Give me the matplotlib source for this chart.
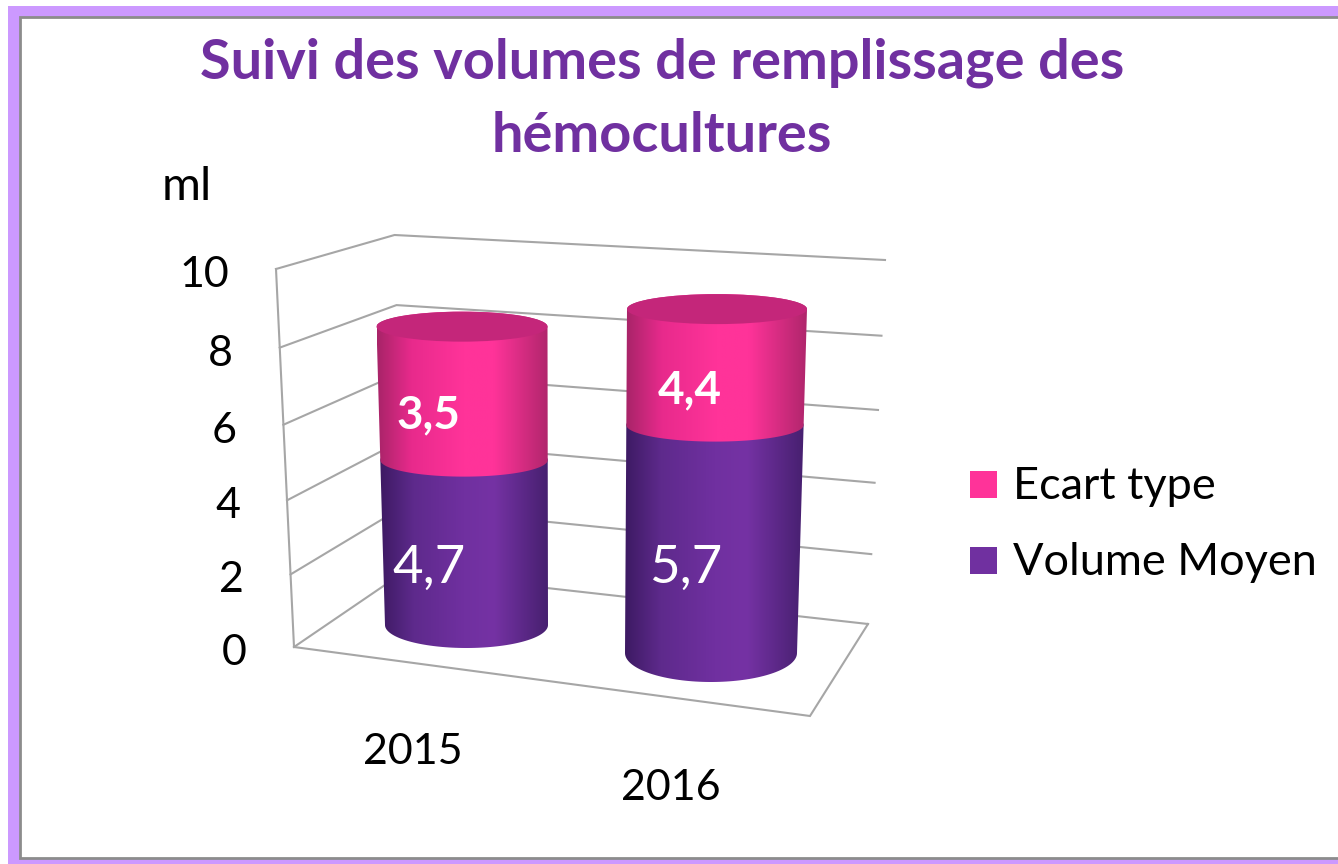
import numpy as np
import matplotlib
matplotlib.use("Agg")
import matplotlib.pyplot as plt
from matplotlib.patches import Polygon, Rectangle, Ellipse

plt.rcParams['font.family'] = ['Lato', 'DejaVu Sans']

# ---- data ----
years = ['2015', '2016']
series_names = ['Ecart type', 'Volume Moyen']
volume_labels = ['4,7', '5,7']
ecart_labels = ['3,5', '4,4']
# Heights as drawn in the picture, in axis units read against the gridlines
# (the printed labels above do not quite agree with the drawn 2016 heights).
volume_drawn = [4.7, 6.0]
ecart_drawn = [3.8, 3.05]
y_ticks = [0, 2, 4, 6, 8, 10]
title_lines = ['Suivi des volumes de remplissage des', 'hémocultures']
y_unit = 'ml'

# ---- style ----
PURPLE = '#7030A0'
PINK = '#FF3399'
LILAC = '#CC99FF'
GRID = '#A6A6A6'
FONT_TICK = 31

fig = plt.figure(figsize=(13.38, 8.64), dpi=100, facecolor='white')
ax = fig.add_axes([0, 0, 1, 1])
ax.axis('off')

# Frame
ax.add_patch(Rectangle((8, 6), 1330, 858, fc=LILAC, ec='none', zorder=0))
ax.add_patch(Rectangle((20, 17), 1320, 841, fc='white', ec='#8C8C8C', lw=2, zorder=0.1))

# 3-D box: corners at value 0 and value 10
front_left = ((294, 647), (276, 269))
back_left = ((404, 572), (394.5, 235))
back_right = ((868, 624), (885, 260))
front_right_floor = (810, 716)


def at(corner, v):
    (x0, y0), (x1, y1) = corner
    t = v / 10.0
    t = t - 0.05 * t * (1 - t)      # slight perspective foreshortening of the box
    return x0 + (x1 - x0) * t, y0 + (y1 - y0) * t


for v in y_ticks:
    pts = [at(front_left, v), at(back_left, v), at(back_right, v)]
    ax.plot(*zip(*pts), color=GRID, lw=1.5, zorder=1, solid_joinstyle='miter')
    fx, fy = pts[0]
    ax.text(fx - 47, fy + 6, str(v), ha='right', va='center', fontsize=FONT_TICK, color='black')
ax.plot(*zip(at(front_left, 0), at(front_left, 10)), color=GRID, lw=1.5, zorder=1)
ax.plot(*zip(at(front_left, 0), front_right_floor, at(back_right, 0)),
        color=GRID, lw=1.5, zorder=1, solid_joinstyle='miter')

# Cylinder geometry: base y, pixels per unit, (cx, half width, ry) at base and top
bars = [
    dict(base=625, scale=35.1, bottom=(466.5, 81.5, 23), top=(462, 85.5, 15)),
    dict(base=653, scale=38.0, bottom=(711, 86, 29), top=(717, 90, 15)),
]

purple_stops = ['#3D1A63', '#5E2A8C', '#7030A0', '#7532A4', '#472070']
pink_stops = ['#A82468', '#E82A8C', '#FF3399', '#FF3399', '#B0266C']
stop_pos = [0.0, 0.2, 0.5, 0.68, 1.0]


def hex_rgb(h):
    return [int(h[i:i + 2], 16) / 255 for i in (1, 3, 5)]


def gradient(stops, n=256):
    xs = np.linspace(0, 1, n)
    arr = np.array([hex_rgb(s) for s in stops])
    return np.stack([np.interp(xs, stop_pos, arr[:, c]) for c in range(3)], axis=1)[None, :, :]


def segment(bar, v0, v1, stops, z):
    y_base = bar['base']
    total = bar['total']

    def shape(v):
        f = v / total
        b, t = bar['bottom'], bar['top']
        cx = b[0] + (t[0] - b[0]) * f
        hw = b[1] + (t[1] - b[1]) * f
        ry = t[2] + (b[2] - t[2]) * (1 - f) ** 2
        return cx, hw, ry, y_base - v * bar['scale']

    cx0, hw0, ry0, y0 = shape(v0)
    cx1, hw1, ry1, y1 = shape(v1)
    th = np.linspace(0, np.pi, 80)
    front = np.c_[cx0 + hw0 * np.cos(th), y0 + ry0 * np.sin(th)]       # right -> left along the front
    back = np.c_[cx1 - hw1 * np.cos(th), y1 - ry1 * np.sin(th)]        # left -> right along the back
    poly = Polygon(np.r_[front, back], closed=True, fc='none', ec='none', transform=ax.transData)
    ax.add_patch(poly)
    xa = min(cx0 - hw0, cx1 - hw1)
    xb = max(cx0 + hw0, cx1 + hw1)
    im = ax.imshow(gradient(stops), extent=(xa, xb, y0 + ry0 + 1, y1 - ry1 - 1), aspect='auto',
                   zorder=z, interpolation='bilinear')
    im.set_clip_path(poly)
    return cx1, hw1, ry1, y1


for i, bar in enumerate(bars):
    bar['total'] = volume_drawn[i] + ecart_drawn[i]
    segment(bar, 0, volume_drawn[i], purple_stops, 2 + i)
    cx, hw, ry, y = segment(bar, volume_drawn[i], bar['total'], pink_stops, 2.1 + i)
    ax.add_patch(Ellipse((cx, y), 2 * hw, 2 * ry, fc='#C4267A', ec='none', zorder=2.2 + i))

# Data labels
for lab, (x, y) in zip(volume_labels, [(429, 568), (686, 568)]):
    ax.text(x, y, lab, color='white', ha='center', va='center', fontsize=38, zorder=6)
for lab, (x, y) in zip(ecart_labels, [(428, 415), (690, 390)]):
    ax.text(x, y, lab, color='white', ha='center', va='center', fontsize=33, fontweight='bold', zorder=6)

# Category labels
for lab, (x, y) in zip(years, [(413, 752), (671, 788)]):
    ax.text(x, y, lab, ha='center', va='center', fontsize=31, color='black')

# Axis unit and title
ax.text(187, 187, y_unit, ha='center', va='center', fontsize=34, color='black')
for line, y in zip(title_lines, [63, 136]):
    ax.text(662, y, line, ha='center', va='center', fontsize=40.2, fontweight='bold', color=PURPLE)

# Legend
for name, col, y_box, y_base in zip(series_names, [PINK, PURPLE], [471, 547], [499, 575]):
    ax.add_patch(Rectangle((970, y_box), 27, 27, fc=col, ec='none', zorder=3))
    ax.text(1013, y_base, name, ha='left', va='baseline', fontsize=32.5, color='black')

ax.set_xlim(0, 1338)
ax.set_ylim(864, 0)
fig.savefig('out.png', dpi=100)
